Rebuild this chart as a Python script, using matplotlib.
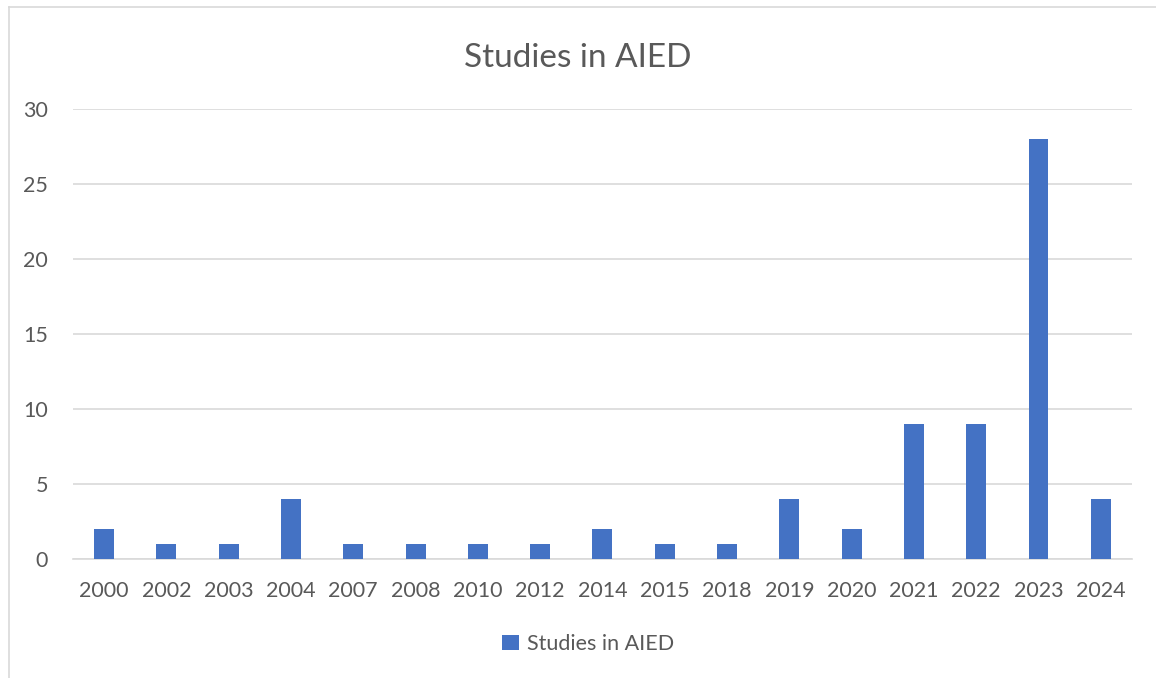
import matplotlib
matplotlib.use("Agg")
import matplotlib.pyplot as plt
from matplotlib.lines import Line2D
from matplotlib.patches import Patch

years = ["2000", "2002", "2003", "2004", "2007", "2008", "2010", "2012", "2014",
         "2015", "2018", "2019", "2020", "2021", "2022", "2023", "2024"]
studies = [2, 1, 1, 4, 1, 1, 1, 1, 2, 1, 1, 4, 2, 9, 9, 28, 4]
yticks = [0, 5, 10, 15, 20, 25, 30]
series_name = "Studies in AIED"

plt.rcParams['font.family'] = ['Lato', 'DejaVu Sans']
txt = "#595959"
bar_color = "#4472C4"

fig = plt.figure(figsize=(11.56, 6.78), dpi=100)
ax = fig.add_axes([0.0631, 0.1755, 0.9161, 0.6637])

x = list(range(len(years)))
ax.bar(x, studies, width=0.32, color=bar_color, zorder=3)
ax.set_xlim(-0.5, len(years) - 0.5)
ax.set_ylim(0, 30)
ax.set_yticks(yticks)
ax.set_xticks(x)
ax.set_xticklabels(years)
ax.yaxis.grid(True, color="#d9d9d9", linewidth=1.2, zorder=0)
ax.set_axisbelow(True)
for s in ["top", "right", "left"]:
    ax.spines[s].set_visible(False)
ax.spines["bottom"].set_color("#d9d9d9")
ax.spines["bottom"].set_linewidth(1.2)
ax.tick_params(axis="both", length=0, labelsize=15.5, colors=txt)
ax.tick_params(axis="x", pad=16)
ax.tick_params(axis="y", pad=18)

fig.text(0.5, 0.915, series_name, ha="center", va="center", fontsize=24, color=txt)

handle = Patch(facecolor=bar_color, edgecolor="none")
fig.legend([handle], [series_name], loc="center", bbox_to_anchor=(0.509, 0.05),
           frameon=False, fontsize=15.5, labelcolor=txt, handlelength=0.75,
           handleheight=0.75, handletextpad=0.4)

# chart border (top and left visible)
fig.add_artist(Line2D([9/1156, 1], [1 - 7/678, 1 - 7/678], color="#d9d9d9",
                      linewidth=1.2, transform=fig.transFigure))
fig.add_artist(Line2D([9/1156, 9/1156], [0, 1 - 7/678], color="#d9d9d9",
                      linewidth=1.2, transform=fig.transFigure))

fig.savefig("out.png", dpi=100)
